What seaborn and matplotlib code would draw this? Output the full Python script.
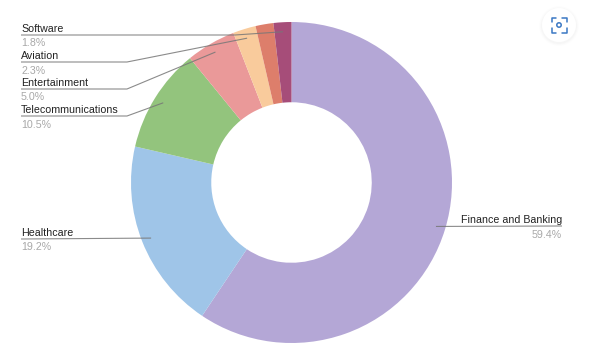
import numpy as np
import matplotlib
matplotlib.use('Agg')
import matplotlib.pyplot as plt
import seaborn as sns
from matplotlib.patches import Circle

categories = ['Finance and Banking', 'Healthcare', 'Telecommunications', 'Entertainment',
              'Aviation', '', 'Software']
shares = [59.4, 19.2, 10.5, 5.0, 2.3, 1.8, 1.8]
share_labels = ['59.4%', '19.2%', '10.5%', '5.0%', '2.3%', '', '1.8%']
colors = ['#B4A7D6', '#9FC5E8', '#93C47D', '#EA9999', '#F9CB9C', '#DD7E6B', '#A64D79']

sns.set_theme(style='white')
plt.rcParams['font.family'] = ['Liberation Sans', 'DejaVu Sans']

fig = plt.figure(figsize=(5.93, 3.58), dpi=100)
ax = fig.add_axes([0, 0, 1, 1])

cx, cy, radius = 291.5, 175.5, 160.5
wedges, _ = ax.pie(shares, colors=sns.color_palette(colors), startangle=90, counterclock=False,
                   center=(cx, cy), radius=radius, frame=True,
                   wedgeprops={'width': radius * 0.5, 'linewidth': 0})
ax.set_xlim(0, 593)
ax.set_ylim(0, 358)
ax.axis('off')


def anchor(wedge):
    mid = np.deg2rad((wedge.theta1 + wedge.theta2) / 2)
    return cx + 151 * np.cos(mid), cy + 151 * np.sin(mid)


# (text x, rule y, elbow x, align) per labelled slice, measured from the top in pixels
label_spots = {
    'Finance and Banking': (562, 226, None, 'right'),
    'Healthcare': (21, 239, None, 'left'),
    'Telecommunications': (21, 116, 127, 'left'),
    'Entertainment': (21, 89, 127, 'left'),
    'Aviation': (21, 62, 127, 'left'),
    'Software': (21, 35, 235, 'left'),
}

for wedge, name, pct in zip(wedges, categories, share_labels):
    if not name:
        continue
    tx, ty, elbow, align = label_spots[name]
    ax_, ay_ = anchor(wedge)
    y = 358 - ty
    xs = [tx, elbow, ax_] if elbow else [tx, ax_]
    ys = [y, y, ay_] if elbow else [y, ay_]
    ax.plot(xs, ys, color='#777777', lw=0.8, alpha=0.85, solid_capstyle='butt', zorder=3)
    ax.text(tx, y + 1.2, name, ha=align, va='bottom', fontsize=7.7, color='#222222', zorder=4)
    ax.text(tx, y - 3.5, pct, ha=align, va='top', fontsize=7.7, color='#a8a8a8', zorder=4)

# lens button, top right
for r, a in [(20, 0.008), (19, 0.012), (18, 0.016)]:
    ax.add_patch(Circle((559, 332), r, color='#000000', alpha=a, lw=0, zorder=5))
ax.add_patch(Circle((559, 333), 17, color='white', lw=0, zorder=6))
blue = '#3b78c4'
for sx, sy in [(-1, 1), (1, 1), (-1, -1), (1, -1)]:
    ax.plot([559 + sx * 7.5, 559 + sx * 7.5, 559 + sx * 3], [333 + sy * 3, 333 + sy * 7.5, 333 + sy * 7.5],
            color=blue, lw=1.1, zorder=7)
ax.add_patch(Circle((559, 333), 2.2, fill=False, ec=blue, lw=1.1, zorder=7))

fig.savefig('out.png', dpi=100)
